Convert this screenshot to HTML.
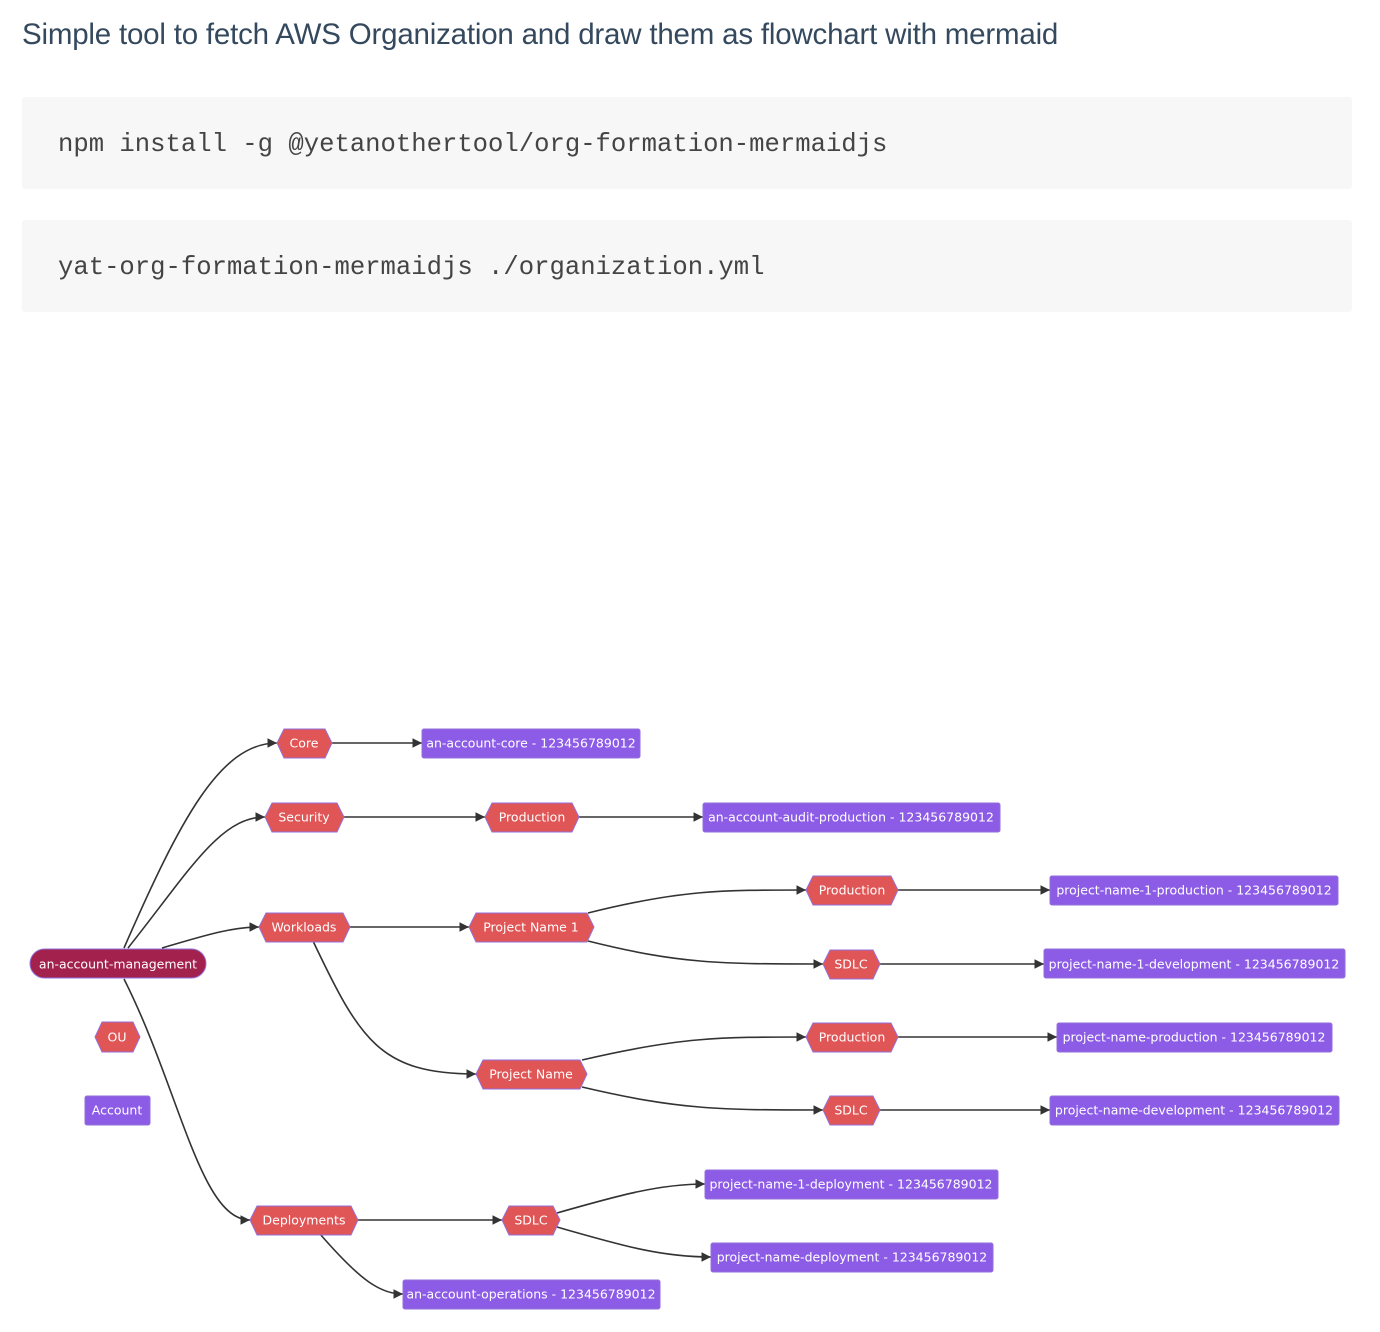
<!DOCTYPE html>
<html><head><meta charset="utf-8"><style>
body{margin:0;width:1380px;height:1332px;background:#fff;font-family:"Liberation Sans",sans-serif;position:relative;overflow:hidden}
h1{position:absolute;left:22px;top:18px;margin:0;font-weight:normal;font-size:29.5px;color:#34495e;letter-spacing:-0.2px}
.code{position:absolute;left:22px;width:1330px;height:92px;background:#f7f7f7;border-radius:3px;font-family:"Liberation Mono",monospace;font-size:25.6px;color:#444;line-height:96px;padding-left:36px;box-sizing:border-box}
svg{position:absolute;left:0;top:0}
svg text{font-family:"DejaVu Sans","Liberation Sans",sans-serif;font-size:12.5px;fill:#fff;text-anchor:middle;dominant-baseline:central}
</style></head><body>
<h1>Simple tool to fetch AWS Organization and draw them as flowchart with mermaid</h1>
<div class="code" style="top:97px">npm install -g @yetanothertool/org-formation-mermaidjs</div>
<div class="code" style="top:220px">yat-org-formation-mermaidjs ./organization.yml</div>
<svg width="1380" height="1332" viewBox="0 0 1380 1332">
<defs><marker id="a" viewBox="0 0 10 10" refX="10" refY="5" markerWidth="6" markerHeight="6" orient="auto"><path d="M0,0L10,5L0,10z" fill="#333"/></marker></defs>
<g fill="none" stroke="#333" stroke-width="1.6" marker-end="url(#a)">
<path d="M124,948 C180,820 220,743 277,743"/>
<path d="M128,948 C190,870 220,817 265,817"/>
<path d="M162,948 C200,937 230,927 259,927"/>
<path d="M124,979 C180,1090 200,1220 250,1220"/>
<path d="M332,743 L422,743"/>
<path d="M344,817 L485,817"/>
<path d="M579,817 L703,817"/>
<path d="M350,927 L469,927"/>
<path d="M313,941 C360,1040 380,1074 476,1074"/>
<path d="M588,913 C680,890 720,890 806,890"/>
<path d="M588,941 C680,964 720,964 823,964"/>
<path d="M898,890 L1050,890"/>
<path d="M880,964 L1044,964"/>
<path d="M582,1060 C680,1037 720,1037 806,1037"/>
<path d="M582,1087 C680,1110 720,1110 823,1110"/>
<path d="M898,1037 L1057,1037"/>
<path d="M880,1110 L1050,1110"/>
<path d="M358,1220 L502,1220"/>
<path d="M320,1234 C360,1280 380,1294 403,1294"/>
<path d="M557,1213 C620,1195 660,1184 705,1184"/>
<path d="M557,1227 C620,1245 660,1257 711,1257"/>
</g>
<g stroke="#9370db" stroke-width="1">
<rect x="30" y="949" width="176" height="29" rx="14.5" fill="#a3214d"/>
<rect x="85" y="1096" width="65" height="29" rx="2" fill="#8c5ce6"/>
<rect x="422" y="729" width="218" height="29" rx="2" fill="#8c5ce6"/>
<rect x="703" y="803" width="297" height="29" rx="2" fill="#8c5ce6"/>
<rect x="1050" y="876" width="288" height="29" rx="2" fill="#8c5ce6"/>
<rect x="1044" y="949" width="301" height="29" rx="2" fill="#8c5ce6"/>
<rect x="1057" y="1023" width="275" height="29" rx="2" fill="#8c5ce6"/>
<rect x="1050" y="1096" width="289" height="29" rx="2" fill="#8c5ce6"/>
<rect x="705" y="1170" width="293" height="29" rx="2" fill="#8c5ce6"/>
<rect x="711" y="1243" width="282" height="29" rx="2" fill="#8c5ce6"/>
<rect x="403" y="1280" width="257" height="29" rx="2" fill="#8c5ce6"/>
</g>
<g fill="#e05555" stroke="#9370db" stroke-width="1">
<polygon points="95,1037 102,1022 133,1022 140,1037 133,1052 102,1052"/>
<polygon points="277,743 284,729 325,729 332,743 325,758 284,758"/>
<polygon points="265,817 272,803 337,803 344,817 337,832 272,832"/>
<polygon points="485,817 492,803 572,803 579,817 572,832 492,832"/>
<polygon points="259,927 266,913 343,913 350,927 343,942 266,942"/>
<polygon points="469,927 476,913 587,913 594,927 587,942 476,942"/>
<polygon points="806,890 813,876 891,876 898,890 891,905 813,905"/>
<polygon points="823,964 830,950 873,950 880,964 873,979 830,979"/>
<polygon points="476,1074 483,1060 580,1060 587,1074 580,1089 483,1089"/>
<polygon points="806,1037 813,1023 891,1023 898,1037 891,1052 813,1052"/>
<polygon points="823,1110 830,1096 873,1096 880,1110 873,1125 830,1125"/>
<polygon points="250,1220 257,1206 351,1206 358,1220 351,1235 257,1235"/>
<polygon points="502,1220 509,1206 553,1206 560,1220 553,1235 509,1235"/>
</g>
<text x="118" y="964">an-account-management</text>
<text x="117" y="1037">OU</text>
<text x="117" y="1110">Account</text>
<text x="304" y="743">Core</text>
<text x="531" y="743">an-account-core - 123456789012</text>
<text x="304" y="817">Security</text>
<text x="532" y="817">Production</text>
<text x="851" y="817">an-account-audit-production - 123456789012</text>
<text x="304" y="927">Workloads</text>
<text x="531" y="927">Project Name 1</text>
<text x="852" y="890">Production</text>
<text x="1194" y="890">project-name-1-production - 123456789012</text>
<text x="851" y="964">SDLC</text>
<text x="1194" y="964">project-name-1-development - 123456789012</text>
<text x="531" y="1074">Project Name</text>
<text x="852" y="1037">Production</text>
<text x="1194" y="1037">project-name-production - 123456789012</text>
<text x="851" y="1110">SDLC</text>
<text x="1194" y="1110">project-name-development - 123456789012</text>
<text x="304" y="1220">Deployments</text>
<text x="531" y="1220">SDLC</text>
<text x="851" y="1184">project-name-1-deployment - 123456789012</text>
<text x="852" y="1257">project-name-deployment - 123456789012</text>
<text x="531" y="1294">an-account-operations - 123456789012</text>
</svg>
</body></html>
